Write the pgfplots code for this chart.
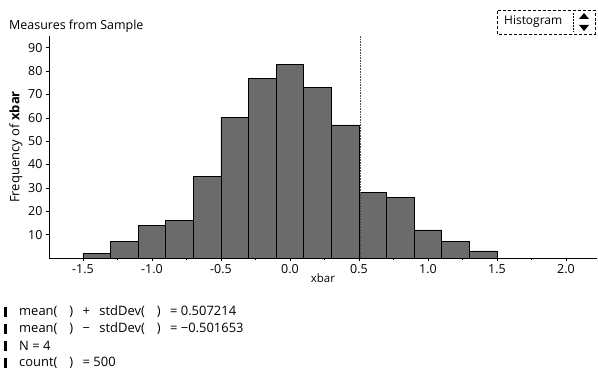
\documentclass[border=0pt]{standalone}
\usepackage{pgfplots}
\pgfplotsset{compat=1.18}
\usepackage{fontspec}
\setmainfont{Open Sans}
\begin{document}
\begin{tikzpicture}[x=1bp,y=1bp]
\path[use as bounding box] (0,0) rectangle (598,379);
\begin{axis}[
  at={(49bp,121bp)}, anchor=south west,
  scale only axis, width=548bp, height=222bp,
  xmin=-1.746, xmax=2.225, ymin=0, ymax=95,
  axis lines*=left,
  axis line style={line width=0.8pt},
  tick align=outside,
  major tick length=3bp, minor tick length=2bp,
  xtick={-1.5,-1.0,...,2.0},
  minor xtick={-1.25,-0.75,...,2.0},
  ytick={10,20,...,90},
  tick style={black, line width=0.5pt},
  xticklabel style={/pgf/number format/.cd, fixed, fixed zerofill, precision=1, assume math mode=true},
  yticklabel style={/pgf/number format/assume math mode=true},
  ticklabel style={font=\fontsize{12.5}{14}\selectfont},
  xlabel={xbar},
  xlabel style={font=\fontsize{11.5}{13}\selectfont, yshift=7bp},
  ylabel={Frequency of \textbf{xbar}},
  ylabel style={font=\fontsize{13}{15}\selectfont, yshift=-1bp},
]
\addplot[ybar interval, fill=black!58, draw=black, line width=0.6pt]
coordinates {(-1.5,2)(-1.3,7)(-1.1,14)(-0.9,16)(-0.7,35)(-0.5,60)(-0.3,77)(-0.1,83)(0.1,73)(0.3,57)(0.5,28)(0.7,26)(0.9,12)(1.1,7)(1.3,3)(1.5,3)};
\addplot[black!70, densely dotted, line width=0.6pt] coordinates {(0.507,0)(0.507,95)};
\end{axis}
\node[anchor=west, font=\fontsize{12.5}{14}\selectfont, inner sep=0pt] at (9,353) {Measures from Sample};
% Histogram button
\draw[line width=0.6pt, densely dashed] (497,345) rectangle (595,369);
\node[anchor=west, font=\fontsize{12}{14}\selectfont, inner sep=0pt] at (504,357) {Histogram};
\draw[line width=0.5pt, densely dotted] (573,348) -- (573,366);
\fill (584,366) -- (579,360) -- (589,360) -- cycle;
\fill (584,348) -- (579,354) -- (589,354) -- cycle;
% stats
\def\g{\hspace{6bp}}
\foreach \yy/\tt in {67/{mean(\hspace{12bp})\g{} + \g{}stdDev(\hspace{12bp})\g{} = 0.507214},
                     50/{mean(\hspace{12bp})\g{} \textminus{} \g{}stdDev(\hspace{12bp})\g{} = \textminus0.501653},
                     33/{N = 4},
                     16/{count(\hspace{12bp})\g{} = 500}}{
  \fill (4,\yy-5) rectangle (6.5,\yy+5);
  \node[anchor=west, font=\fontsize{13}{15}\selectfont, inner sep=0pt] at (19,\yy) {\tt};
}
\end{tikzpicture}
\end{document}
